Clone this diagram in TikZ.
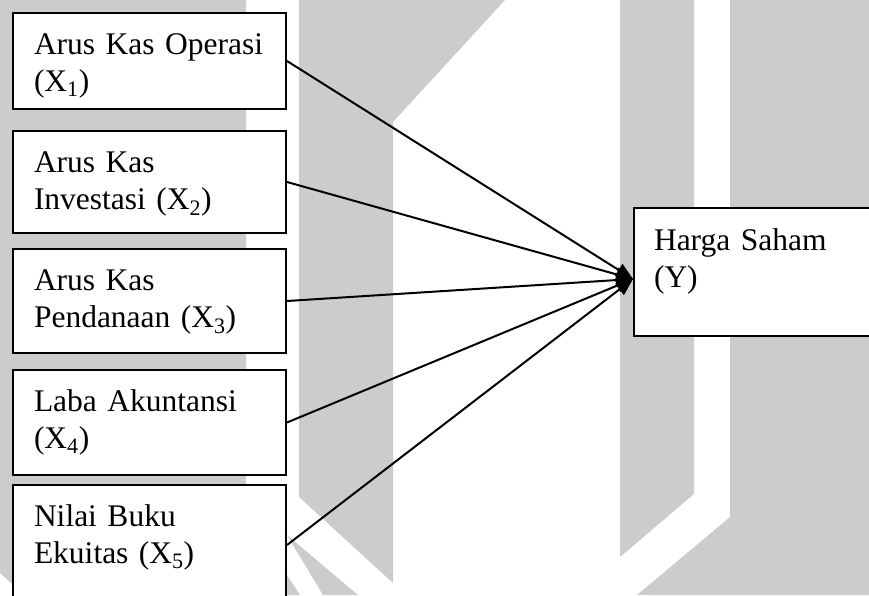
\documentclass[tikz,border=0pt]{standalone}
\usepackage{fontspec}
\setmainfont{Liberation Serif}
\usetikzlibrary{positioning,arrows.meta}
\definecolor{wmgray}{RGB}{204,204,204}
\tikzset{
	var/.style={draw,line width=2pt,fill=white,anchor=north west,align=left,
		text width=231pt,inner xsep=21pt,inner ysep=0pt,text height=41pt,
		font=\fontsize{31.5}{37}\selectfont},
	arr/.style={line width=2pt,-{Triangle[length=17pt,width=14pt]}}
}
\begin{document}
\begin{tikzpicture}[x=1pt,y=-1pt]
	\useasboundingbox (0,0) rectangle (869,595);
	% watermark in the background
	\fill[wmgray] (0,0) -- (246,0) -- (246,600) -- (30,600) -- (0,573) -- cycle;
	\fill[wmgray] (299,0) -- (505,0) -- (393,122) -- (393,583) -- (299,497) -- cycle;
	\fill[wmgray] (287,535) -- (358,595) -- (323,595) -- cycle;
	\fill[wmgray] (287,575) -- (300,595) -- (287,595) -- cycle;
	\fill[wmgray] (620,0) -- (694,0) -- (694,494) -- (620,557) -- cycle;
	\fill[wmgray] (730,0) -- (869,0) -- (869,595) -- (637,595) -- (730,517) -- cycle;

	\node[var,text depth=55pt] (x1) at (12,12) {Arus Kas Operasi\\(X\textsubscript{1})};
	\node[var,text depth=61pt,below=20pt of x1] (x2) {Arus Kas\\Investasi (X\textsubscript{2})};
	\node[var,text depth=63pt,below=14pt of x2] (x3) {Arus Kas\\Pendanaan (X\textsubscript{3})};
	\node[var,text depth=64pt,below=15pt of x3] (x4) {Laba Akuntansi\\(X\textsubscript{4})};
	\node[var,text depth=79pt,below=8pt of x4] (x5) {Nilai Buku\\Ekuitas (X\textsubscript{5})};
	\node[var,text width=207pt,inner xsep=20pt,text height=42pt,text depth=86pt] (y) at (633,207) {Harga Saham\\(Y)};
	\coordinate (tip) at ([yshift=-7pt]y.west);

	\draw[arr] (x1.east) -- (tip);
	\draw[arr] (x2.east) -- (tip);
	\draw[arr] (x3.east) -- (tip);
	\draw[arr] (x4.east) -- (tip);
	\draw[arr] (x5.east) -- (tip);
\end{tikzpicture}
\end{document}
